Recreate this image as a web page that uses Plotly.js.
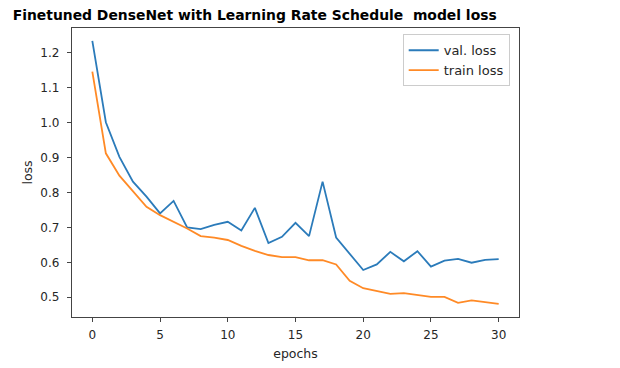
<!DOCTYPE html>
<html><head><meta charset="utf-8">
<script src="https://cdn.plot.ly/plotly-3.0.1.min.js"></script>
<style>html,body{margin:0;padding:0;background:#fff}</style>
</head><body>
<div id="chart" style="width:620px;height:368px"></div>
<script>
const epochs = Array.from({length: 31}, (_, i) => i);
const valLoss = [1.234, 1.001, 0.902, 0.831, 0.788, 0.740, 0.776, 0.700, 0.695, 0.707, 0.716,
  0.691, 0.756, 0.655, 0.673, 0.713, 0.675, 0.831, 0.671, 0.626, 0.578,
  0.594, 0.630, 0.603, 0.632, 0.588, 0.605, 0.610, 0.599, 0.607, 0.609];
const trainLoss = [1.146, 0.912, 0.848, 0.805, 0.759, 0.735, 0.716, 0.697, 0.675, 0.671, 0.664,
  0.647, 0.633, 0.621, 0.615, 0.615, 0.606, 0.606, 0.594, 0.547, 0.526,
  0.519, 0.510, 0.512, 0.506, 0.501, 0.501, 0.484, 0.491, 0.487, 0.481];
const xTicks = [0, 5, 10, 15, 20, 25, 30];
const yTicks = [0.5, 0.6, 0.7, 0.8, 0.9, 1.0, 1.1, 1.2];

const tickFont = {family: 'DejaVu Sans', size: 12, color: '#262626'};
const labelFont = {family: 'DejaVu Sans', size: 12.5, color: '#262626'};
const legendFont = {family: 'DejaVu Sans', size: 13, color: '#262626'};
const traces = [
  {x: epochs, y: valLoss, type: 'scatter', mode: 'lines', name: 'val. loss',
   line: {color: '#2b7bba', width: 1.8}},
  {x: epochs, y: trainLoss, type: 'scatter', mode: 'lines', name: 'train loss',
   line: {color: '#ff8a26', width: 1.8}}
];
const axisCommon = {
  showgrid: false, zeroline: false, showline: true, mirror: true,
  linecolor: '#444', linewidth: 1.2, ticks: 'outside', ticklen: 4, tickwidth: 1,
  tickcolor: '#444', tickfont: tickFont
};
const layout = {
  width: 620, height: 368,
  margin: {l: 72, r: 101, t: 28, b: 51, pad: 0},
  paper_bgcolor: '#fff', plot_bgcolor: '#fff',
  font: tickFont,
  title: {text: '<b>Finetuned DenseNet with Learning Rate Schedule  model loss</b>',
    font: {family: 'DejaVu Sans', size: 13.9, color: '#000'},
    x: 12.7/620, xanchor: 'left', xref: 'container', y: 1 - 15/368, yanchor: 'middle', yref: 'container'},
  xaxis: Object.assign({}, axisCommon, {range: [-1.5, 31.5], tickvals: xTicks, ticktext: xTicks.map(String),
    ticklabelstandoff: 2,
    title: {text: 'epochs', font: labelFont, standoff: 8}}),
  yaxis: Object.assign({}, axisCommon, {range: [0.4436, 1.2707], tickvals: yTicks,
    ticktext: yTicks.map(v => v.toFixed(1)), ticklabelstandoff: 5,
    title: {text: 'loss', font: labelFont, standoff: 5}}),
  legend: {x: (402.7 - 72) / 447, y: (317 - 34.3) / 289, xanchor: 'left', yanchor: 'top',
    bgcolor: 'rgba(255,255,255,0.8)', bordercolor: '#ccc', borderwidth: 1,
    font: legendFont, tracegroupgap: 0, itemwidth: 30},
  showlegend: true
};
Plotly.newPlot('chart', traces, layout, {displayModeBar: false, staticPlot: true});
</script>
</body></html>
